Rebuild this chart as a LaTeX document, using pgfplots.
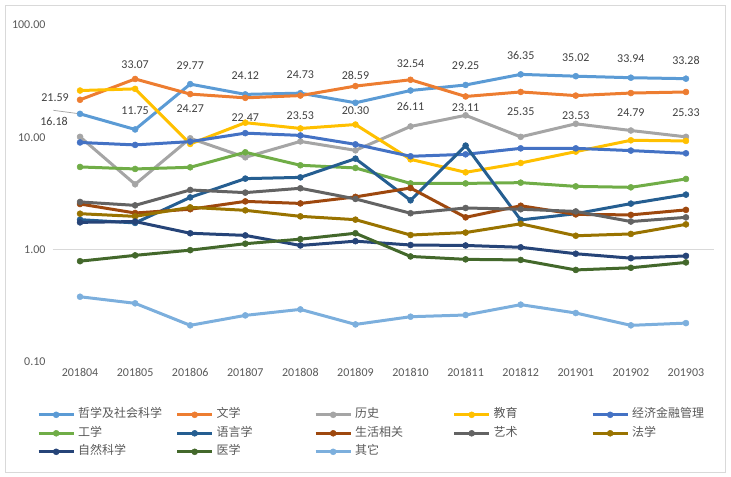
\documentclass[border=0pt]{standalone}
\usepackage{fontspec}
\setmainfont{Carlito}
\newfontfamily\cjk{Noto Sans CJK SC}
\usepackage{pgfplots}
\usepackage{pgfplotstable}
\pgfplotsset{compat=1.18}
\definecolor{c1}{HTML}{5B9BD5}
\definecolor{c2}{HTML}{ED7D31}
\definecolor{c3}{HTML}{A5A5A5}
\definecolor{c4}{HTML}{FFC000}
\definecolor{c5}{HTML}{4472C4}
\definecolor{c6}{HTML}{70AD47}
\definecolor{c7}{HTML}{255E91}
\definecolor{c8}{HTML}{9E480E}
\definecolor{c9}{HTML}{636363}
\definecolor{c10}{HTML}{997300}
\definecolor{c11}{HTML}{264478}
\definecolor{c12}{HTML}{43682B}
\definecolor{c13}{HTML}{7CAFDD}
\definecolor{grid}{HTML}{D9D9D9}
\definecolor{tick}{HTML}{595959}
\definecolor{lab}{HTML}{404040}

\pgfplotstableread{
x y dx dy t
0 16.18 -26 -8 16.18
1 11.75 0 19 11.75
2 29.77 0 18.7 29.77
3 24.12 0 18.7 24.12
4 24.73 0 18.7 24.73
5 20.30 0 -8 20.30
6 26.11 0 -15.7 26.11
7 29.25 0 19.4 29.25
8 36.35 0 19 36.35
9 35.02 0 18.4 35.02
10 33.94 0 18.7 33.94
11 33.28 0 18.7 33.28
}\labA

\pgfplotstableread{
x y dx dy t
0 21.59 -25 2 21.59
1 33.07 0 14 33.07
2 24.27 0 -14.6 24.27
3 22.47 0 -19.6 22.47
4 23.53 0 -20.3 23.53
5 28.59 0 11 28.59
6 32.54 0 16 32.54
7 23.11 0 -10.7 23.11
8 25.35 0 -20 25.35
9 23.53 0 -20 23.53
10 24.79 0 -20 24.79
11 25.33 0 -20.3 25.33
}\labB

\pgfplotstableread{
x s3 s4 s5 s6 s7 s8 s9 s10 s11 s12 s13
0 10.1 26.1 9.00 5.45 1.85 2.55 2.66 2.09 1.75 0.79 0.381
1 3.82 27.0 8.56 5.23 1.73 2.12 2.48 1.98 1.78 0.89 0.333
2 9.80 8.73 9.16 5.41 2.92 2.29 3.40 2.38 1.40 0.99 0.212
3 6.64 13.5 10.9 7.36 4.29 2.69 3.22 2.24 1.34 1.13 0.260
4 9.20 12.0 10.4 5.64 4.40 2.58 3.52 1.98 1.09 1.24 0.294
5 7.66 13.0 8.66 5.34 6.46 2.95 2.83 1.85 1.19 1.40 0.216
6 12.5 6.37 6.78 3.89 2.75 3.54 2.11 1.35 1.10 0.87 0.253
7 15.7 4.88 7.06 3.89 8.44 1.94 2.35 1.42 1.09 0.82 0.262
8 10.1 5.91 7.98 3.95 1.84 2.46 2.29 1.70 1.05 0.81 0.324
9 13.2 7.46 7.98 3.66 2.09 2.06 2.19 1.33 0.92 0.66 0.273
10 11.5 9.41 7.62 3.59 2.57 2.04 1.78 1.38 0.84 0.69 0.212
11 10.1 9.29 7.21 4.26 3.09 2.26 1.94 1.68 0.88 0.77 0.222
}\datatab

\newcommand{\lt}[1]{\makebox[97.5bp][l]{\cjk #1}}

\begin{document}
\begin{tikzpicture}
\useasboundingbox (0,0) rectangle (731bp,477bp);
\draw[grid, line width=0.75bp] (5bp,5bp) rectangle (725bp,472bp);
\begin{axis}[
  at={(52.5bp,115bp)}, anchor=south west,
  scale only axis, width=661bp, height=337bp,
  xmin=-0.5, xmax=11.5,
  ymode=log, ymin=0.1, ymax=100,
  xtick={0,...,11},
  xticklabels={201804,201805,201806,201807,201808,201809,201810,201811,201812,201901,201902,201903},
  ytick={0.1,1,10,100},
  yticklabels={0.10,1.00,10.00,100.00},
  minor ytick={}, minor xtick={},
  extra y ticks={1}, extra y tick labels={},
  extra y tick style={grid=major, major grid style={draw=grid, line width=0.75bp}},
  axis line style={draw=none},
  major tick length=0pt, minor tick length=0pt,
  tick style={draw=none},
  clip=false,
  tick label style={font=\fontsize{12bp}{14bp}\selectfont, text=tick},
  yticklabel style={xshift=-3.5bp},
  xticklabel style={yshift=-3bp},
  legend columns=5,
  legend cell align=left,
  legend style={at={(-0.02345,-0.1383)}, anchor=north west, draw=none, fill=none,
    inner sep=0pt, row sep=6.5bp, font=\fontsize{12bp}{14bp}\selectfont, text=tick,
    nodes={inner sep=0pt, text height=9bp, text depth=3bp},
    /tikz/every odd column/.append style={column sep=3bp}},
  legend image code/.code={\draw[mark repeat=2,mark phase=2,#1] plot coordinates {(0bp,0bp) (17.5bp,0bp) (35bp,0bp)};},
  every axis plot/.append style={line width=3bp, mark=*, mark size=3bp, mark options={solid, line width=0.5bp}},
]
\draw[color=c3, line width=0.75bp] (axis cs:-0.485,17.4) -- (axis cs:0,16.18);
\addplot[color=c1, point meta=explicit symbolic,
  nodes near coords={\pgfplotspointmeta},
  visualization depends on={\thisrow{dx}\as\dx},
  visualization depends on={\thisrow{dy}\as\dy},
  every node near coord/.append style={anchor=center, xshift=\dx*1bp, yshift=\dy*1bp, font=\fontsize{12bp}{14bp}\selectfont, text=lab}]
  table[x=x, y=y, meta=t] {\labA};
\addlegendentry{\lt{哲学及社会科学}}
\addplot[color=c2, point meta=explicit symbolic,
  nodes near coords={\pgfplotspointmeta},
  visualization depends on={\thisrow{dx}\as\dx},
  visualization depends on={\thisrow{dy}\as\dy},
  every node near coord/.append style={anchor=center, xshift=\dx*1bp, yshift=\dy*1bp, font=\fontsize{12bp}{14bp}\selectfont, text=lab}]
  table[x=x, y=y, meta=t] {\labB};
\addlegendentry{\lt{文学}}
\addplot[color=c3] table[x=x, y=s3] {\datatab};
\addlegendentry{\lt{历史}}
\addplot[color=c4] table[x=x, y=s4] {\datatab};
\addlegendentry{\lt{教育}}
\addplot[color=c5] table[x=x, y=s5] {\datatab};
\addlegendentry{\lt{经济金融管理}}
\addplot[color=c6] table[x=x, y=s6] {\datatab};
\addlegendentry{\lt{工学}}
\addplot[color=c7] table[x=x, y=s7] {\datatab};
\addlegendentry{\lt{语言学}}
\addplot[color=c8] table[x=x, y=s8] {\datatab};
\addlegendentry{\lt{生活相关}}
\addplot[color=c9] table[x=x, y=s9] {\datatab};
\addlegendentry{\lt{艺术}}
\addplot[color=c10] table[x=x, y=s10] {\datatab};
\addlegendentry{\lt{法学}}
\addplot[color=c11] table[x=x, y=s11] {\datatab};
\addlegendentry{\lt{自然科学}}
\addplot[color=c12] table[x=x, y=s12] {\datatab};
\addlegendentry{\lt{医学}}
\addplot[color=c13] table[x=x, y=s13] {\datatab};
\addlegendentry{\lt{其它}}
\end{axis}
\end{tikzpicture}
\end{document}
